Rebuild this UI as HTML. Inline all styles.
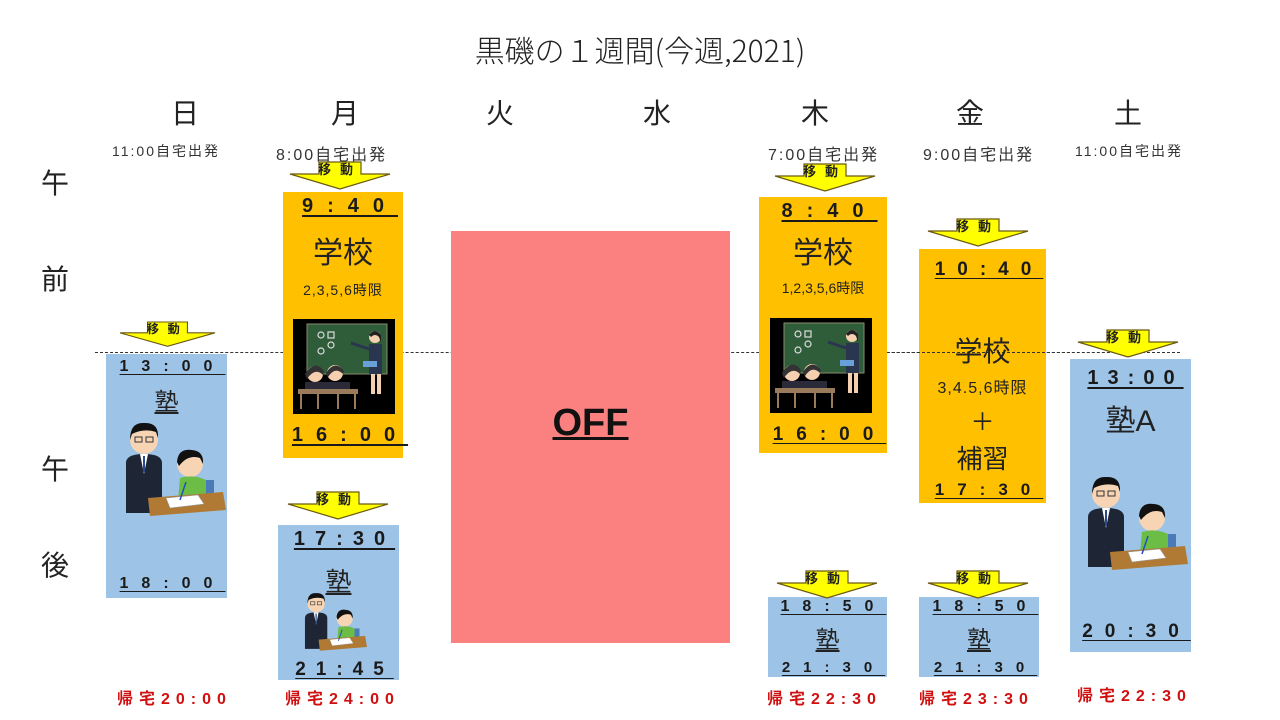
<!DOCTYPE html>
<html><head><meta charset="utf-8"><style>
body{margin:0;background:#fff;}
#c{position:relative;width:1280px;height:720px;overflow:hidden;font-family:"Liberation Sans","Noto Sans CJK JP",sans-serif;color:#222;}
.a{position:absolute;}
.t{position:absolute;text-align:center;white-space:nowrap;}
.tm{position:absolute;text-align:center;white-space:nowrap;font-weight:bold;font-size:18px;letter-spacing:9px;text-decoration:underline;text-underline-offset:3px;color:#1a1a1a;}
.bl{position:absolute;background:#9dc3e6;}
.or{position:absolute;background:#ffc000;}
.red{position:absolute;color:#d01010;font-weight:bold;font-size:16px;letter-spacing:6px;white-space:nowrap;}
.dep{position:absolute;font-size:15px;color:#333;white-space:nowrap;letter-spacing:2px;}
</style></head><body><div id="c">

<div class="t" style="left:0;width:1280px;top:27px;font-size:30px;color:#222;font-family:'Noto Sans CJK JP','Liberation Sans',sans-serif;font-weight:300;">黒磯の１週間(今週,2021)</div>

<div class="t" style="left:165px;width:40px;top:92px;font-size:28px;">日</div>
<div class="t" style="left:325px;width:40px;top:92px;font-size:28px;">月</div>
<div class="t" style="left:480px;width:40px;top:92px;font-size:28px;">火</div>
<div class="t" style="left:637px;width:40px;top:92px;font-size:28px;">水</div>
<div class="t" style="left:795px;width:40px;top:92px;font-size:28px;">木</div>
<div class="t" style="left:950px;width:40px;top:92px;font-size:28px;">金</div>
<div class="t" style="left:1108px;width:40px;top:92px;font-size:28px;">土</div>

<div class="dep" style="left:112px;top:141px;font-size:14px;">11:00自宅出発</div>
<div class="dep" style="left:276px;top:141px;font-size:16px;">8:00自宅出発</div>
<div class="dep" style="left:768px;top:141px;font-size:16px;">7:00自宅出発</div>
<div class="dep" style="left:923px;top:141px;font-size:16px;">9:00自宅出発</div>
<div class="dep" style="left:1075px;top:141px;font-size:14px;">11:00自宅出発</div>

<div class="t" style="left:38px;width:34px;top:162px;font-size:28px;">午</div>
<div class="t" style="left:38px;width:34px;top:258px;font-size:28px;">前</div>
<div class="t" style="left:38px;width:34px;top:448px;font-size:28px;">午</div>
<div class="t" style="left:38px;width:34px;top:544px;font-size:28px;">後</div>

<!-- dashed line (under boxes) -->
<div class="a" style="left:95px;top:352px;width:1085px;border-top:1px dashed #333;"></div>

<!-- boxes -->
<div class="bl" style="left:106px;top:354px;width:121px;height:244px;"></div>
<div class="or" style="left:283px;top:192px;width:120px;height:266px;"></div>
<div class="bl" style="left:278px;top:525px;width:121px;height:155px;"></div>
<div class="a" style="left:451px;top:231px;width:279px;height:412px;background:#fb8080;"></div>
<div class="or" style="left:759px;top:197px;width:128px;height:256px;"></div>
<div class="or" style="left:919px;top:249px;width:127px;height:254px;"></div>
<div class="bl" style="left:1070px;top:359px;width:121px;height:293px;"></div>
<div class="bl" style="left:768px;top:597px;width:119px;height:80px;"></div>
<div class="bl" style="left:919px;top:597px;width:120px;height:80px;"></div>
<div class="a" style="left:887px;top:352px;width:183px;border-top:1px dashed #333;"></div>

<!-- arrows -->
<svg class="a" style="left:0;top:0;" width="1280" height="720">
<defs><g id="ar">
<polygon points="29,0 71,0 71,12 100,12 50,27 0,12 29,12" fill="#ffff00" stroke="#6b5a10" stroke-width="1.2"/>
<text x="50" y="12" font-size="13" font-weight="bold" text-anchor="middle" fill="#222" font-family="Liberation Sans,Noto Sans CJK JP,sans-serif" letter-spacing="9">移動</text>
</g></defs>
<use href="#ar" transform="translate(120,322) scale(0.95,0.9)"/>
<use href="#ar" transform="translate(290,162)"/>
<use href="#ar" transform="translate(288,492)"/>
<use href="#ar" transform="translate(775,164)"/>
<use href="#ar" transform="translate(928,219)"/>
<use href="#ar" transform="translate(1078,330)"/>
<use href="#ar" transform="translate(777,571)"/>
<use href="#ar" transform="translate(928,571)"/>
</svg>

<!-- Sunday -->
<div class="tm" style="left:106px;width:133px;top:358px;font-size:16px;letter-spacing:13px;">13:00</div>
<div class="t" style="left:106px;width:121px;top:382px;font-size:24px;text-decoration:underline;">塾</div>
<div class="tm" style="left:106px;width:133px;top:575px;font-size:16px;letter-spacing:13px;">18:00</div>

<!-- Monday -->
<div class="tm" style="left:283px;width:134px;top:195px;font-size:20px;letter-spacing:14px;">9:40</div>
<div class="t" style="left:283px;width:120px;top:228px;font-size:30px;">学校</div>
<div class="t" style="left:283px;width:120px;top:280px;font-size:14px;letter-spacing:1px;">2,3,5,6時限</div>
<div class="tm" style="left:283px;width:134px;top:424px;font-size:20px;letter-spacing:13px;">16:00</div>
<div class="tm" style="left:278px;width:133px;top:528px;font-size:20px;letter-spacing:10px;">17:30</div>
<div class="t" style="left:278px;width:121px;top:562px;font-size:26px;text-decoration:underline;">塾</div>
<div class="tm" style="left:278px;width:133px;top:659px;font-size:19px;letter-spacing:10px;">21:45</div>

<!-- OFF -->
<div class="t" style="left:451px;width:279px;top:402px;font-size:38px;font-weight:bold;color:#111;text-decoration:underline;">OFF</div>

<!-- Thursday -->
<div class="tm" style="left:759px;width:141px;top:200px;font-size:20px;letter-spacing:14px;">8:40</div>
<div class="t" style="left:759px;width:128px;top:228px;font-size:30px;">学校</div>
<div class="t" style="left:759px;width:128px;top:278px;font-size:14px;">1,2,3,5,6時限</div>
<div class="tm" style="left:759px;width:141px;top:424px;font-size:19px;letter-spacing:13px;">16:00</div>
<div class="tm" style="left:768px;width:131px;top:598px;font-size:16px;letter-spacing:13px;">18:50</div>
<div class="t" style="left:768px;width:119px;top:620px;font-size:24px;text-decoration:underline;">塾</div>
<div class="tm" style="left:768px;width:131px;top:659px;font-size:15px;letter-spacing:13px;">21:30</div>

<!-- Friday -->
<div class="tm" style="left:919px;width:140px;top:259px;font-size:19px;letter-spacing:12px;">10:40</div>
<div class="t" style="left:919px;width:127px;top:330px;font-size:28px;">学校</div>
<div class="t" style="left:919px;width:127px;top:374px;font-size:16px;letter-spacing:1px;">3,4.5,6時限</div>
<div class="t" style="left:919px;width:127px;top:402px;font-size:24px;">＋</div>
<div class="t" style="left:919px;width:127px;top:439px;font-size:26px;">補習</div>
<div class="tm" style="left:919px;width:140px;top:480px;font-size:17px;letter-spacing:13px;">17:30</div>
<div class="tm" style="left:919px;width:133px;top:598px;font-size:16px;letter-spacing:13px;">18:50</div>
<div class="t" style="left:919px;width:120px;top:620px;font-size:24px;text-decoration:underline;">塾</div>
<div class="tm" style="left:919px;width:133px;top:659px;font-size:15px;letter-spacing:13px;">21:30</div>

<!-- Saturday -->
<div class="tm" style="left:1070px;width:131px;top:367px;font-size:20px;letter-spacing:9px;">13:00</div>
<div class="t" style="left:1070px;width:121px;top:396px;font-size:30px;">塾A</div>
<div class="tm" style="left:1070px;width:133px;top:621px;font-size:19px;letter-spacing:12px;">20:30</div>

<!-- returns -->
<div class="red" style="left:117px;top:685px;">帰宅20:00</div>
<div class="red" style="left:285px;top:685px;">帰宅24:00</div>
<div class="red" style="left:767px;top:685px;">帰宅22:30</div>
<div class="red" style="left:919px;top:685px;">帰宅23:30</div>
<div class="red" style="left:1077px;top:682px;">帰宅22:30</div>

<!-- illustrations -->
<svg class="a" style="left:0;top:0;" width="1280" height="720">
<defs>
<g id="cls">
<rect x="0" y="0" width="102" height="95" fill="#000"/>
<rect x="14" y="5" width="80" height="50" fill="#2f5d3a" stroke="#8a8a6a" stroke-width="1"/>
<g fill="none" stroke="#ddd" stroke-width="1.2">
<circle cx="28" cy="16" r="3"/><rect x="35" y="13" width="6" height="6"/>
<circle cx="28" cy="32" r="3"/><circle cx="38" cy="26" r="3"/>
</g>
<circle cx="82" cy="18" r="6" fill="#f5d0b0"/><path d="M76 16 Q82 8 88 16 L88 24 L86 18 Q82 14 78 18 Z" fill="#222"/>
<rect x="76" y="25" width="13" height="30" fill="#2a3550"/>
<line x1="76" y1="30" x2="58" y2="24" stroke="#2a3550" stroke-width="3"/>
<rect x="70" y="42" width="14" height="6" fill="#6aa0d8"/>
<rect x="78" y="55" width="4" height="20" fill="#f5d0b0"/><rect x="84" y="55" width="4" height="20" fill="#f5d0b0"/>
<circle cx="22" cy="55" r="8" fill="#f5d0b0"/><path d="M12 55 Q22 40 31 52 L30 56 Q22 48 14 60 Z" fill="#333"/>
<circle cx="42" cy="54" r="8" fill="#f5d0b0"/><path d="M33 54 Q42 40 51 52 L50 55 Q42 47 35 58 Z" fill="#333"/>
<rect x="12" y="63" width="45" height="10" fill="#2a2a38"/>
<rect x="5" y="70" width="60" height="5" fill="#9a7a5a"/>
<g stroke="#9a7a5a" stroke-width="2"><line x1="8" y1="75" x2="8" y2="90"/><line x1="25" y1="75" x2="25" y2="90"/><line x1="45" y1="75" x2="45" y2="90"/><line x1="62" y1="75" x2="62" y2="90"/></g>
</g>
<g id="tut">
<circle cx="26" cy="22" r="14" fill="#f7d4b4"/>
<path d="M12 22 Q12 4 26 5 Q41 4 40 20 L38 14 Q26 10 14 16 Z" fill="#111"/>
<rect x="17" y="19" width="7" height="5" fill="none" stroke="#333" stroke-width="1"/><rect x="28" y="19" width="7" height="5" fill="none" stroke="#333" stroke-width="1"/>
<path d="M8 45 Q8 36 26 36 Q44 36 44 45 L44 95 L8 95 Z" fill="#1e2535"/>
<polygon points="22,36 30,36 26,56" fill="#fff"/><line x1="26" y1="38" x2="26" y2="54" stroke="#2a4a8a" stroke-width="2"/>
<circle cx="72" cy="46" r="13" fill="#f7d4b4"/>
<path d="M59 44 Q60 30 74 32 Q86 33 85 46 L82 40 Q70 36 61 48 Z" fill="#111"/>
<path d="M62 60 Q75 56 88 62 L92 82 L60 82 Z" fill="#6cbd45"/>
<rect x="88" y="62" width="8" height="20" fill="#4a7ab8"/>
<polygon points="30,80 105,74 108,92 32,98" fill="#b07a35"/>
<polygon points="48,80 80,77 86,86 52,90" fill="#fff" stroke="#999" stroke-width="0.6"/>
<line x1="62" y1="82" x2="68" y2="64" stroke="#2050c0" stroke-width="1.5"/>
</g>
</defs>
<use href="#cls" transform="translate(293,319)"/>
<use href="#cls" transform="translate(770,318)"/>
<use href="#tut" transform="translate(118,418)"/>
<use href="#tut" transform="translate(1080,472)"/>
<use href="#tut" transform="translate(300,590) scale(0.62)"/>
</svg>

</div></body></html>
